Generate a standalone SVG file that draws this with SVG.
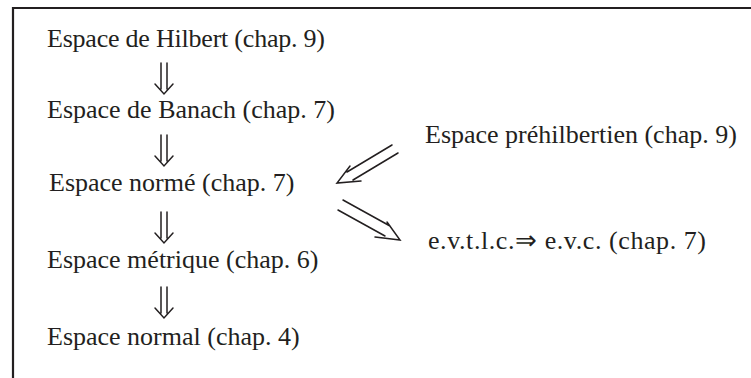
<svg xmlns="http://www.w3.org/2000/svg" width="751" height="378" viewBox="0 0 751 378">
<style>
text{font-family:'Liberation Serif','Times New Roman',serif;font-size:26px;fill:#231f20}
.frame{stroke:#231f20;stroke-width:2.2;fill:none}
.arr{stroke:#231f20;stroke-width:1.5;fill:none;stroke-linecap:round;stroke-linejoin:miter}
</style>
<rect width="751" height="378" fill="#fff"/>
<path class="frame" d="M13,378 V8 H751"/>
<g id="n-hilbert"><text x="47" y="47" textLength="278" lengthAdjust="spacing">Espace de Hilbert (chap. 9)</text></g>
<g id="n-banach"><text x="47" y="118">Espace de Banach (chap. 7)</text></g>
<g id="n-norme"><text x="49" y="191">Espace normé (chap. 7)</text></g>
<g id="n-metrique"><text x="47" y="268">Espace métrique (chap. 6)</text></g>
<g id="n-normal"><text x="47" y="345">Espace normal (chap. 4)</text></g>
<g id="n-prehilbert"><text x="425" y="143">Espace préhilbertien (chap. 9)</text></g>
<g id="n-evtlc"><text x="428" y="249" textLength="278" lengthAdjust="spacing">e.v.t.l.c.⇒ e.v.c. (chap. 7)</text></g>
<g id="connectors">
<g transform="translate(164,63)"><path class="arr" d="M-3,0 V26 M3,0 V26 M-9,21 L0,31 L9,21"/></g>
<g transform="translate(164,135)"><path class="arr" d="M-3,0 V26 M3,0 V26 M-9,21 L0,31 L9,21"/></g>
<g transform="translate(164,212)"><path class="arr" d="M-3,0 V26 M3,0 V26 M-9,21 L0,31 L9,21"/></g>
<g transform="translate(164,287)"><path class="arr" d="M-3,0 V26 M3,0 V26 M-9,21 L0,31 L9,21"/></g>
<path class="arr" d="M392,145 L347,172 M398,153 L353,180 M350,166 L337,183 L361,181"/>
<path class="arr" d="M343,200 L390,226 M338,210 L385,236 M387,222 L400,240 L375,237"/>
</g>
</svg>
